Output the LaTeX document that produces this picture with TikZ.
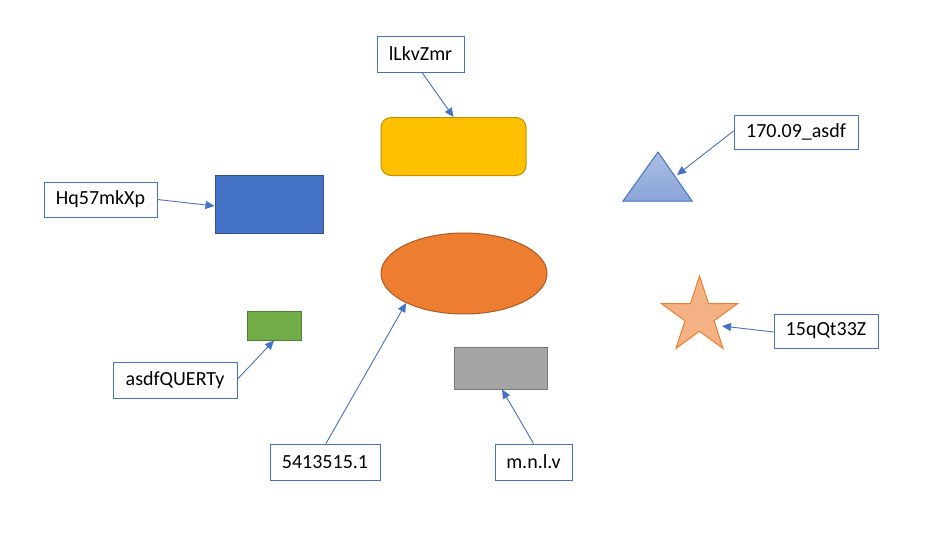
\documentclass[tikz,border=0pt]{standalone}
\usepackage{fontspec}
\setmainfont{Carlito}
\usetikzlibrary{arrows.meta,shapes.geometric,calc}
\definecolor{lblue}{HTML}{4472C4}
\definecolor{yel}{HTML}{FFC000}
\definecolor{yelb}{HTML}{BF9000}
\definecolor{ora}{HTML}{ED7D31}
\definecolor{orab}{HTML}{AE5A21}
\definecolor{blub}{HTML}{2F528F}
\definecolor{grn}{HTML}{70AD47}
\definecolor{grnb}{HTML}{507E32}
\definecolor{gry}{HTML}{A5A5A5}
\definecolor{gryb}{HTML}{787878}
\definecolor{starf}{HTML}{F4B183}
\definecolor{trit}{HTML}{AABDE3}
\definecolor{trib}{HTML}{8BA5D9}
\tikzset{
  lbl/.style={draw=lblue, fill=white, line width=1pt, inner sep=0pt,
    font=\fontsize{20}{24}\selectfont, text=black},
  conn/.style={draw=lblue, line width=0.9pt, -{Triangle[length=9pt,width=8pt]}},
  shp/.style={line width=1pt, inner sep=0pt}
}
\begin{document}
\begin{tikzpicture}[x=1pt,y=-1pt]
\useasboundingbox (0,0) rectangle (933,538);
% shapes
\node[shp, draw=yelb, fill=yel, rounded corners=10pt, minimum width=145pt, minimum height=58pt] (yb) at (453.5,146.5) {};
\node[shp, draw=blub, fill=lblue, minimum width=108pt, minimum height=58pt] (bb) at (269,204) {};
\node[shp, ellipse, draw=orab, fill=ora, minimum width=166pt, minimum height=81pt] (el) at (464,273.5) {};
\node[shp, draw=grnb, fill=grn, minimum width=54pt, minimum height=29pt] (gb) at (274,325.5) {};
\node[shp, draw=gryb, fill=gry, minimum width=93pt, minimum height=42pt] (gy) at (500.5,368) {};
\draw[line width=1pt, draw=lblue, top color=trit, bottom color=trib] (658,152) -- (692,201) -- (623,201) -- cycle;
\coordinate (tri) at (677,175);
\draw[line width=1pt, draw=ora, fill=starf]
  (699.5,316) +(-90:40) -- +(-126:15.3) -- +(-162:40) -- +(-198:15.3) -- +(-234:40)
  -- +(-270:15.3) -- +(-306:40) -- +(-342:15.3) -- +(-18:40) -- +(-54:15.3) -- cycle;
\coordinate (st) at (722,326);
% labels
\node[lbl, minimum width=87pt, minimum height=36pt] (l1) at (420.5,54) {lLkvZmr};
\node[lbl, minimum width=124pt, minimum height=34pt] (l2) at (796,132) {170.09\_asdf};
\node[lbl, minimum width=113pt, minimum height=35pt] (l3) at (100.5,199.5) {Hq57mkXp};
\node[lbl, minimum width=104pt, minimum height=34pt] (l4) at (826,331) {15qQt33Z};
\node[lbl, minimum width=124pt, minimum height=36pt] (l5) at (175,380) {asdfQUERTy};
\node[lbl, minimum width=110pt, minimum height=36pt] (l6) at (325,462) {5413515.1};
\node[lbl, minimum width=77pt, minimum height=36pt] (l7) at (533.5,462) {m.n.l.v};
% connectors
\draw[conn] ([xshift=1.5pt]l1.south) -- (yb.north);
\draw[conn] ([yshift=1pt]l2.west) -- (tri);
\draw[conn] (l3.east) -- ([yshift=-2pt]bb.west);
\draw[conn] ([yshift=-1pt]l4.west) -- (st);
\draw[conn] ([yshift=1pt]l5.east) -- (gb.south);
\draw[conn] ([xshift=1pt]l6.north) -- (el.207);
\draw[conn] (l7.north) -- ([xshift=1.5pt]gy.south);
\end{tikzpicture}
\end{document}
